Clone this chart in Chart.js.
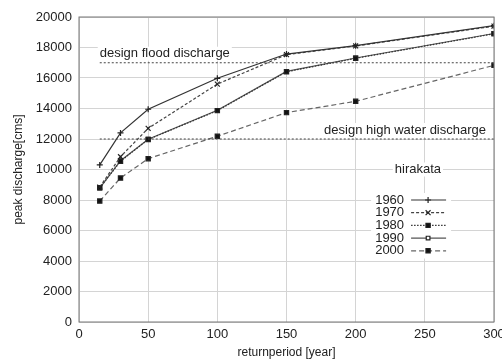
<!DOCTYPE html>
<html>
<head>
<meta charset="utf-8">
<script src="https://cdn.jsdelivr.net/npm/chart.js@4"></script>
<style>
html, body { margin: 0; padding: 0; background: #fff; }
#wrap { width: 502px; height: 361px; }
</style>
</head>
<body>
<div id="wrap"><canvas id="c"></canvas></div>
<script>
// return periods [year] and peak discharge [cms] at hirakata
const returnPeriods = [15, 30, 50, 100, 150, 200, 300];
const q1960 = [10300, 12400, 13950, 15980, 17570, 18120, 19430];
const q1970 = [8850, 10840, 12700, 15600, 17530, 18100, 19400];
const q1980 = [8800, 10540, 11970, 13860, 16410, 17290, 18900];
const q1990 = [8780, 10580, 11990, 13880, 16430, 17310, 18920];
const q2000 = [7930, 9440, 10710, 12180, 13730, 14470, 16830];

const xTickValues = [0, 50, 100, 150, 200, 250, 300];
const yTickValues = [0, 2000, 4000, 6000, 8000, 10000, 12000, 14000, 16000, 18000, 20000];

// design levels
const designFlood = 17000;
const designHighWater = 12000;
const designRange = [15, 300];

const FONT = '"Liberation Sans", Arial, sans-serif';
Chart.defaults.font.family = FONT;
Chart.defaults.font.size = 13;
Chart.defaults.color = '#222';

const pts = vals => returnPeriods.map((x, i) => ({ x: x, y: vals[i] }));
const flat = v => designRange.map(x => ({ x: x, y: v }));

const series = [
  { label: '1960', data: pts(q1960), borderColor: '#333', borderDash: [], pointStyle: 'cross', pointRadius: 3, pointBackgroundColor: '#333' },
  { label: '1970', data: pts(q1970), borderColor: '#444', borderDash: [3, 2], pointStyle: 'crossRot', pointRadius: 3.5, pointBackgroundColor: '#333' },
  { label: '1980', data: pts(q1980), borderColor: '#333', borderDash: [1.5, 1.5], pointStyle: 'rect', pointRadius: 3, pointBackgroundColor: '#111' },
  { label: '1990', data: pts(q1990), borderColor: '#555', borderDash: [], pointStyle: 'rect', pointRadius: 2.6, pointBackgroundColor: '#fff' },
  { label: '2000', data: pts(q2000), borderColor: '#666', borderDash: [5, 3], pointStyle: 'rect', pointRadius: 3, pointBackgroundColor: '#111' }
];
series.forEach(s => {
  s.borderWidth = 1.2;
  s.pointBorderColor = '#222';
  s.pointBorderWidth = 1.2;
  s.fill = false;
  s.tension = 0;
});

const refLines = [
  { label: 'design flood', data: flat(designFlood), borderColor: '#444', borderDash: [2, 2], borderWidth: 1, pointRadius: 0, isRef: true },
  { label: 'design high water', data: flat(designHighWater), borderColor: '#444', borderDash: [2, 2], borderWidth: 1, pointRadius: 0, isRef: true }
];

function labelBox(ctx, text, x, y, align) {
  ctx.font = '13px ' + FONT;
  const w = ctx.measureText(text).width;
  let left = x;
  if (align === 'right') left = x - w;
  if (align === 'center') left = x - w / 2;
  ctx.fillStyle = '#fff';
  ctx.fillRect(left - 2, y - 7, w + 4, 14);
  ctx.fillStyle = '#222';
  ctx.textAlign = align;
  ctx.textBaseline = 'middle';
  ctx.fillText(text, x, y);
}

const annotate = {
  id: 'annotate',
  afterDatasetsDraw(chart) {
    const { ctx, chartArea, scales } = chart;
    const xs = scales.x, ys = scales.y;
    ctx.save();
    // frame
    ctx.strokeStyle = '#777';
    ctx.lineWidth = 1;
    ctx.strokeRect(chartArea.left, chartArea.top, chartArea.right - chartArea.left, chartArea.bottom - chartArea.top);

    labelBox(ctx, 'design flood discharge', xs.getPixelForValue(designRange[0]), ys.getPixelForValue(designFlood) - 9, 'left');
    labelBox(ctx, 'design high water discharge', xs.getPixelForValue(designRange[1]) - 8, ys.getPixelForValue(designHighWater) - 9, 'right');
    labelBox(ctx, 'hirakata', xs.getPixelForValue(245), ys.getPixelForValue(10000), 'center');

    // legend
    const textRight = xs.getPixelForValue(235);
    const top = ys.getPixelForValue(8000);
    const rowH = 12.7;
    ctx.fillStyle = '#fff';
    ctx.fillRect(textRight - 33, top - 7, 80, rowH * series.length + 2);
    series.forEach((s, i) => {
      const y = top + i * rowH;
      ctx.fillStyle = '#222';
      ctx.font = '13px ' + FONT;
      ctx.textAlign = 'right';
      ctx.textBaseline = 'middle';
      ctx.fillText(s.label, textRight, y);
      ctx.strokeStyle = s.borderColor;
      ctx.lineWidth = s.borderWidth;
      ctx.setLineDash(s.borderDash);
      ctx.beginPath();
      ctx.moveTo(textRight + 7, y);
      ctx.lineTo(textRight + 42, y);
      ctx.stroke();
      ctx.setLineDash([]);
      ctx.fillStyle = s.pointBackgroundColor;
      ctx.strokeStyle = s.pointBorderColor;
      ctx.lineWidth = s.pointBorderWidth;
      Chart.helpers.drawPoint(ctx, { pointStyle: s.pointStyle, radius: s.pointRadius, borderWidth: s.pointBorderWidth, rotation: 0 }, textRight + 24, y);
    });
    ctx.restore();
  }
};

new Chart(document.getElementById('c'), {
  type: 'line',
  data: { datasets: refLines.concat(series) },
  options: {
    responsive: true,
    maintainAspectRatio: false,
    animation: false,
    parsing: false,
    layout: { padding: { top: 17, right: 8, left: 0, bottom: 0 } },
    plugins: { legend: { display: false }, tooltip: { enabled: false } },
    scales: {
      x: {
        type: 'linear', min: 0, max: 300,
        afterBuildTicks: s => { s.ticks = xTickValues.map(v => ({ value: v })); },
        afterFit: s => { s.height = 39; s.paddingLeft = 0; s.paddingRight = 0; },
        ticks: { padding: 5, maxRotation: 0, autoSkip: false, color: '#222' },
        grid: { color: '#d4d4d4', drawTicks: false },
        border: { display: false },
        title: { display: true, text: 'returnperiod [year]', font: { size: 12 }, padding: { top: 0, bottom: 1 }, color: '#222' }
      },
      y: {
        type: 'linear', min: 0, max: 20000,
        afterBuildTicks: s => { s.ticks = yTickValues.map(v => ({ value: v })); },
        afterFit: s => { s.width = 79; s.paddingTop = 0; s.paddingBottom = 0; },
        ticks: { padding: 7, autoSkip: false, color: '#222', callback: v => String(v) },
        grid: { color: '#d4d4d4', drawTicks: false },
        border: { display: false },
        title: { display: true, text: 'peak discharge[cms]', font: { size: 12 }, padding: { top: 11, bottom: 0 }, color: '#222' }
      }
    }
  },
  plugins: [annotate]
});
</script>
</body>
</html>
